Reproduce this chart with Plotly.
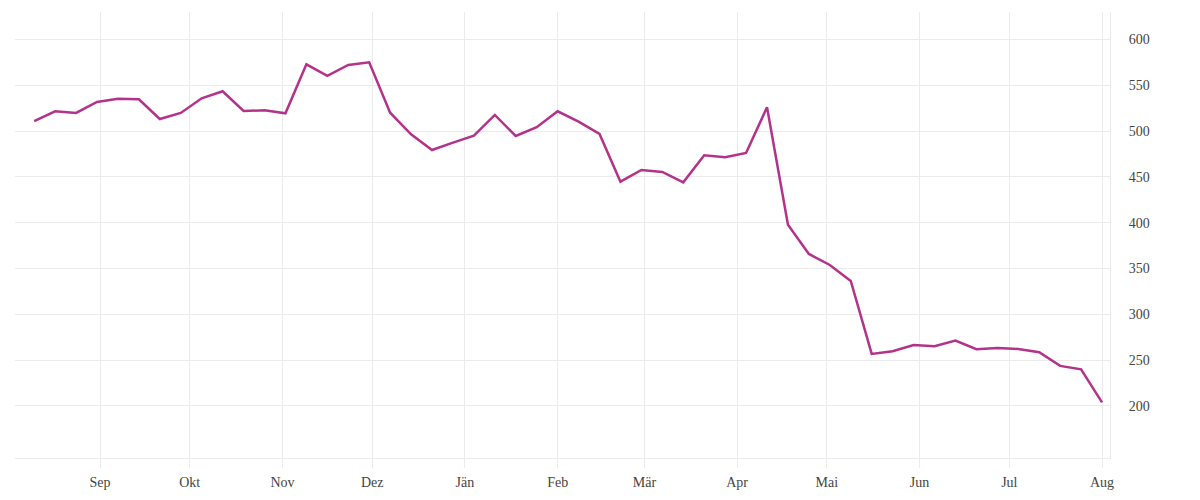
import plotly.graph_objects as go
import pandas as pd

dates = pd.date_range("2019-08-10", periods=52, freq="7D")
values = [
    511, 521.6, 519.8, 531.8, 535.4, 534.7, 513.2, 519.8, 535.8, 543.5,
    522, 522.7, 519.4, 572.9, 560.2, 572.2, 575.1, 520.1, 496.5, 479.4,
    487.4, 495, 517.6, 494.7, 504.2, 521.6, 510.3, 496.9, 444.8, 457.6,
    455.4, 444.1, 473.6, 471.4, 476.1, 526, 397.9, 365.9, 353.9, 336.4,
    256.8, 259.7, 266.6, 265.1, 271.3, 261.9, 263.3, 262.2, 258.6, 243.7,
    240, 204,
]
month_ticks = ["2019-09-01", "2019-10-01", "2019-11-01", "2019-12-01", "2020-01-01",
               "2020-02-01", "2020-03-01", "2020-04-01", "2020-05-01", "2020-06-01",
               "2020-07-01", "2020-08-01"]
month_labels = ["Sep", "Okt", "Nov", "Dez", "Jän", "Feb", "Mär", "Apr", "Mai", "Jun", "Jul", "Aug"]
y_ticks = [200, 250, 300, 350, 400, 450, 500, 550, 600]

fig = go.Figure(go.Scatter(
    x=dates, y=values, mode="lines",
    line=dict(color="#b3338a", width=2.5),
    hoverinfo="x+y",
))

grid = "#ebebeb"
fig.update_layout(
    width=1200, height=500,
    margin=dict(l=7, r=98, t=4, b=50),
    paper_bgcolor="white", plot_bgcolor="white",
    font=dict(family="Liberation Serif", size=14, color="#444444"),
    showlegend=False,
    xaxis=dict(
        range=["2019-08-03 14:00", "2020-08-03 16:00"],
        tickvals=month_ticks, ticktext=month_labels,
        showgrid=True, gridcolor=grid, gridwidth=1,
        ticks="outside", ticklen=9, tickcolor=grid, tickwidth=1,
        ticklabelstandoff=2,
        showline=True, linecolor=grid, linewidth=1,
        zeroline=False,
    ),
    yaxis=dict(
        side="right",
        range=[143.2, 630],
        tickvals=y_ticks,
        showgrid=True, gridcolor=grid, gridwidth=1,
        ticks="", ticklabelstandoff=15,
        showline=True, linecolor=grid, linewidth=1,
        zeroline=False,
    ),
)

fig.write_html("out.html")
